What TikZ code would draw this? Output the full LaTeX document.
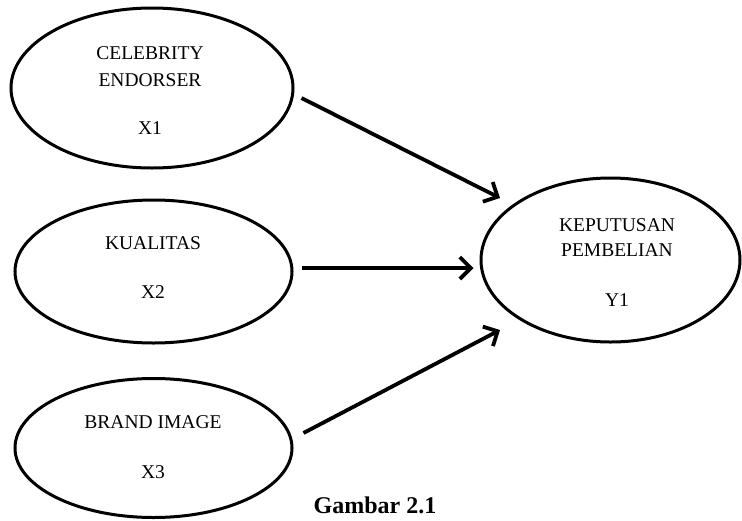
\documentclass[tikz,border=0pt]{standalone}
\usepackage{fontspec}
\setmainfont{Liberation Serif}
\usetikzlibrary{shapes.geometric,arrows.meta}
\begin{document}
\begin{tikzpicture}[x=1pt,y=-1pt,
  var/.style={draw,ellipse,line width=3pt,inner sep=0pt},
  lbl/.style={inner sep=0pt,font=\fontsize{19.5}{21}\selectfont},
  conn/.style={line width=3.8pt,-{Straight Barb[length=11pt,width=22pt]}}]
\useasboundingbox (0,0) rectangle (742,520);
\node[var,minimum width=282pt,minimum height=160pt] (e1) at (152,88) {};
\node[var,minimum width=277pt,minimum height=143pt] (e2) at (153.5,271.5) {};
\node[var,minimum width=277pt,minimum height=139pt] (e3) at (153.5,448) {};
\node[var,minimum width=259pt,minimum height=164pt] (ey) at (610.5,260) {};
\node[lbl] (l1a) at (150,53) {CELEBRITY};
\node[lbl] (l1b) at (150,80) {ENDORSER};
\node[lbl] (l1c) at (150,128) {X1};
\node[lbl] (l2a) at (153,243) {KUALITAS};
\node[lbl] (l2b) at (153,292) {X2};
\node[lbl] (l3a) at (153,422) {BRAND IMAGE};
\node[lbl] (l3b) at (153,472) {X3};
\node[lbl] (lya) at (617,225) {KEPUTUSAN};
\node[lbl] (lyb) at (617,250) {PEMBELIAN};
\node[lbl] (lyc) at (617,300) {Y1};
\node[inner sep=0pt,font=\fontsize{24}{26}\selectfont\bfseries] (cap) at (375,505) {Gambar 2.1};
\coordinate (s1) at ([shift={(7,10)}]e1.east);
\coordinate (s2) at ([shift={(8,-3.5)}]e2.east);
\coordinate (s3) at ([shift={(10,-15)}]e3.east);
\coordinate (t1) at ([shift={(-110.5,-62)}]ey.center);
\coordinate (t2) at ([shift={(-6,8)}]ey.west);
\coordinate (t3) at ([shift={(-110.5,70)}]ey.center);
\draw[conn] (s1) -- (t1);
\draw[conn] (s2) -- (t2);
\draw[conn] (s3) -- (t3);
\end{tikzpicture}
\end{document}
